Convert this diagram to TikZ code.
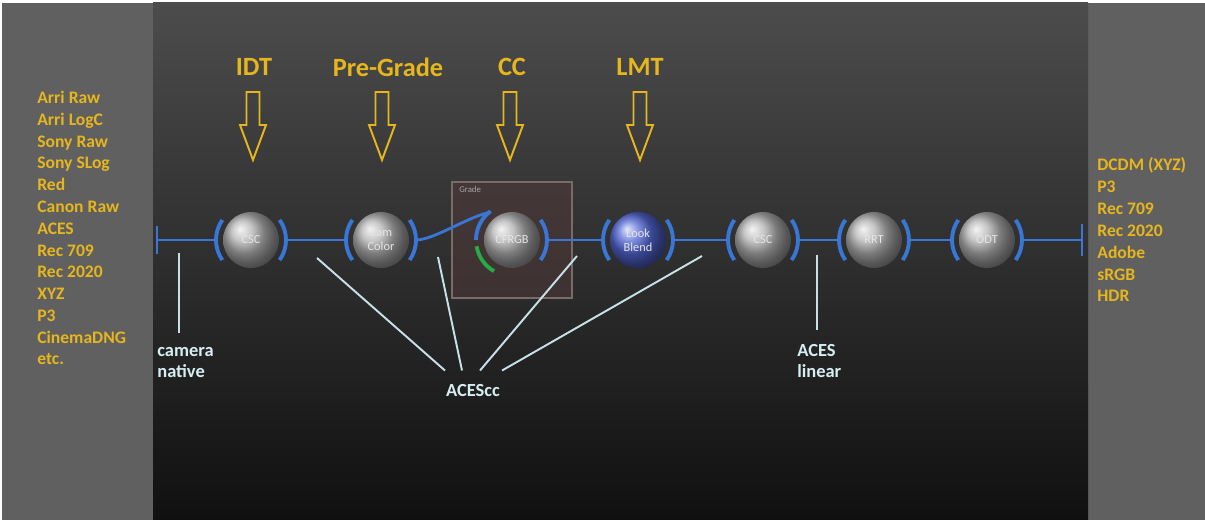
\documentclass[tikz,border=0pt]{standalone}
\usepackage{fontspec}
\setmainfont{Carlito}
\definecolor{acesyellow}{RGB}{230,182,30}
\definecolor{acesblue}{RGB}{58,118,214}
\definecolor{acesgreen}{RGB}{40,170,70}
\definecolor{leadercol}{RGB}{200,225,232}
\definecolor{labelcol}{RGB}{215,238,242}
\definecolor{sidepanel}{RGB}{96,96,96}
\definecolor{paneltop}{RGB}{76,76,76}
\definecolor{panelmid}{RGB}{38,38,38}
\definecolor{panelbot}{RGB}{16,16,16}
\definecolor{lookblue}{RGB}{84,104,215}
\definecolor{gradefill}{RGB}{78,58,56}
\definecolor{gradeedge}{RGB}{120,108,106}
\tikzset{
  sphere/.style={circle, minimum size=1.12cm, inner sep=0pt, outer sep=0.14cm,
    shading=ball, ball color=gray!60, align=center,
    font=\fontsize{7}{8}\selectfont, text=white!80!gray},
  bracket/.style={draw=acesblue, line width=2.2pt},
  mainline/.style={draw=acesblue, line width=1.6pt},
  leader/.style={draw=leadercol, line width=1.1pt},
  hollowarrow/.style={draw=acesyellow, line width=1.1pt, line join=miter},
  heading/.style={text=acesyellow, font=\fontsize{15}{18}\selectfont\bfseries},
  fmtlist/.style={text=acesyellow, align=left, inner sep=0pt, anchor=base west,
    font=\fontsize{10}{12.4}\selectfont\bfseries},
  spacelabel/.style={text=labelcol, align=left, inner sep=0pt,
    font=\fontsize{10.5}{12}\selectfont\bfseries}
}

\begin{document}
\begin{tikzpicture}[x=0.02cm, y=0.02cm]
\useasboundingbox (0,0) rectangle (1205,-520);
\fill[white] (0,0) rectangle (1205,-520);
\fill[sidepanel] (2,-3) rectangle (153,-520);
\fill[sidepanel] (1088,-3) rectangle (1205,-520);
\shade[top color=paneltop, middle color=panelmid, bottom color=panelbot] (153,-3) rectangle (1088,-520);

% input and output formats (base = last line)
\node[fmtlist] (inputs) at (37,-365) {Arri Raw\\Arri LogC\\Sony Raw\\Sony SLog\\Red\\Canon Raw\\ACES\\Rec 709\\Rec 2020\\XYZ\\P3\\CinemaDNG\\etc.};
\node[fmtlist, font=\fontsize{10}{12.5}\selectfont\bfseries] (outputs) at (1097,-302) {DCDM (XYZ)\\P3\\Rec 709\\Rec 2020\\Adobe\\sRGB\\HDR};

% headings
\node[heading] (idt) at (254,-67) {IDT};
\node[heading] (pregrade) at (388,-67) {Pre-Grade};
\node[heading] (cc) at (512,-67) {CC};
\node[heading] (lmt) at (640,-67) {LMT};
\draw[hollowarrow] ([shift={(-7.5,-25)}]idt.center) -- ++(13,0) -- ++(0,-33) -- ++(6.5,0) -- ++(-13,-35) -- ++(-13,35) -- ++(6.5,0) -- cycle;
\draw[hollowarrow] ([shift={(-12.5,-25)}]pregrade.center) -- ++(13,0) -- ++(0,-33) -- ++(6.5,0) -- ++(-13,-35) -- ++(-13,35) -- ++(6.5,0) -- cycle;
\draw[hollowarrow] ([shift={(-8.5,-25)}]cc.center) -- ++(13,0) -- ++(0,-33) -- ++(6.5,0) -- ++(-13,-35) -- ++(-13,35) -- ++(6.5,0) -- cycle;
\draw[hollowarrow] ([shift={(-6.5,-25)}]lmt.center) -- ++(13,0) -- ++(0,-33) -- ++(6.5,0) -- ++(-13,-35) -- ++(-13,35) -- ++(6.5,0) -- cycle;

% grade box
\fill[gradefill, opacity=0.55] (452,-182) rectangle (572,-298);
\draw[gradeedge, line width=0.6pt] (452,-182) rectangle (572,-298);
\node[anchor=west, inner sep=0pt, text=gray!70, font=\fontsize{5}{6}\selectfont] (gradelabel) at (459,-189) {Grade};

% pipeline
\coordinate (leftbar) at (157,-240);
\coordinate (rightbar) at (1082,-240);
\node[sphere] (csc) at (251,-240) {CSC};
\node[sphere] (cam) at (381,-240) {Cam\\Color};
\node[sphere] (cfrgb) at (512,-240) {CFRGB};
\node[sphere, ball color=lookblue] (look) at (638,-240) {Look\\Blend};
\node[sphere] (csc2) at (763,-240) {CSC};
\node[sphere] (rrt) at (874,-240) {RRT};
\node[sphere] (odt) at (987,-240) {ODT};

\draw[mainline] ([yshift=8]leftbar) -- ([yshift=-8]leftbar);
\draw[mainline] ([yshift=9]rightbar) -- ([yshift=-9]rightbar);
\draw[mainline] (leftbar) -- (csc);
\draw[mainline] (csc) -- (cam);
\draw[mainline] (cam.east) .. controls +(18,0) and +(-22,-4) .. (cfrgb.127);
\draw[mainline] (cfrgb) -- (look);
\draw[mainline] (look) -- (csc2);
\draw[mainline] (csc2) -- (rrt);
\draw[mainline] (rrt) -- (odt);
\draw[mainline] (odt) -- (rightbar);

\draw[bracket] ([shift={(145:0.70cm)}]csc.center) arc (145:215:0.70cm);
\draw[bracket] ([shift={(-35:0.70cm)}]csc.center) arc (-35:35:0.70cm);
\draw[bracket] ([shift={(145:0.70cm)}]cam.center) arc (145:215:0.70cm);
\draw[bracket] ([shift={(-35:0.70cm)}]cam.center) arc (-35:35:0.70cm);
\draw[bracket] ([shift={(127:0.72cm)}]cfrgb.center) arc (127:180:0.72cm);
\draw[bracket, draw=acesgreen] ([shift={(190:0.72cm)}]cfrgb.center) arc (190:240:0.72cm);
\draw[bracket] ([shift={(-35:0.70cm)}]cfrgb.center) arc (-35:35:0.70cm);
\draw[bracket] ([shift={(145:0.70cm)}]look.center) arc (145:215:0.70cm);
\draw[bracket] ([shift={(-35:0.70cm)}]look.center) arc (-35:35:0.70cm);
\draw[bracket] ([shift={(145:0.70cm)}]csc2.center) arc (145:215:0.70cm);
\draw[bracket] ([shift={(-35:0.70cm)}]csc2.center) arc (-35:35:0.70cm);
\draw[bracket] ([shift={(145:0.70cm)}]rrt.center) arc (145:215:0.70cm);
\draw[bracket] ([shift={(-35:0.70cm)}]rrt.center) arc (-35:35:0.70cm);
\draw[bracket] ([shift={(145:0.70cm)}]odt.center) arc (145:215:0.70cm);
\draw[bracket] ([shift={(-35:0.70cm)}]odt.center) arc (-35:35:0.70cm);

% colour spaces
\node[spacelabel, anchor=base west] (camnative) at (157,-378) {camera\\native};
\node[spacelabel, anchor=base west] (aceslin) at (797,-378) {ACES\\linear};
\node[spacelabel, inner sep=0pt] (acescc) at (473,-391) {ACEScc};
\coordinate (camtop) at (179,-253);
\coordinate (camfoot) at (179,-333);
\coordinate (lintop) at (817,-255);
\coordinate (linfoot) at (817,-330);
\coordinate (cc1) at (317,-258);
\coordinate (cc2) at (438,-257);
\coordinate (cc3) at (577,-256);
\coordinate (cc4) at (702,-256);
\draw[leader] (camtop) -- (camfoot);
\draw[leader] (lintop) -- (linfoot);
\draw[leader] (cc1) -- ([shift={(-28,14)}]acescc.north);
\draw[leader] (cc2) -- ([shift={(-11,14)}]acescc.north);
\draw[leader] (cc3) -- ([shift={(7,14)}]acescc.north);
\draw[leader] (cc4) -- ([shift={(29,14)}]acescc.north);
\end{tikzpicture}
\end{document}
